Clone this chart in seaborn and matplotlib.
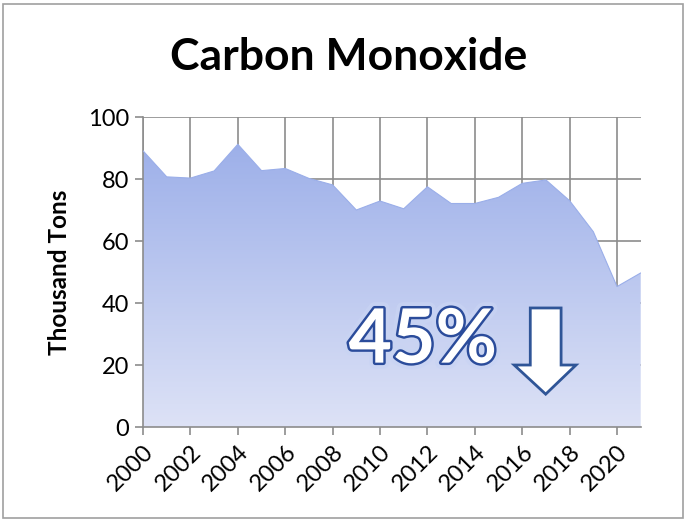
import numpy as np
import pandas as pd
import matplotlib
matplotlib.use("Agg")
import matplotlib.pyplot as plt
import seaborn as sns
from matplotlib import patheffects as pe
from matplotlib.patches import Polygon, Rectangle
from matplotlib.colors import LinearSegmentedColormap

# ---- data ----
years = list(range(2000, 2022))
emissions = [89.1, 80.7, 80.3, 82.6, 91.2, 82.7, 83.4, 80.2, 78.1, 70.0, 72.9,
             70.4, 77.5, 72.1, 72.1, 74.1, 78.6, 79.7, 73.0, 63.0, 45.3, 49.7]
tick_years = list(range(2000, 2021, 2))
y_ticks = [0, 20, 40, 60, 80, 100]
title = "Carbon Monoxide"
ylabel = "Thousand Tons"
callout = "45%"

sns.set_theme(style="white")
plt.rcParams['font.family'] = ['Lato', 'DejaVu Sans']
plt.rcParams['text.color'] = 'black'
plt.rcParams['axes.labelcolor'] = 'black'

fig = plt.figure(figsize=(6.86, 5.21), dpi=100)
ax = fig.add_axes([0.2085, 0.1804, 0.7255, 0.595])

df = pd.DataFrame({"year": years, "value": emissions})
sns.lineplot(data=df, x="year", y="value", ax=ax, color="#9AAEE9",
             linewidth=0.8, zorder=3)
poly = ax.fill_between(df["year"], 0, df["value"], facecolor="none",
                       edgecolor="none", zorder=2)
cmap = LinearSegmentedColormap.from_list("g", ["#DDE2F6", "#97ABE8"])
grad = np.linspace(0, 1, 256).reshape(-1, 1)
im = ax.imshow(grad, aspect="auto", cmap=cmap, extent=[2000, 2021, 0, 100],
               origin="lower", zorder=2)
im.set_clip_path(poly.get_paths()[0], transform=ax.transData)

ax.set_xlim(2000, 2021)
ax.set_ylim(0, 100)
ax.set_xticks(tick_years)
ax.set_xticklabels([str(y) for y in tick_years], rotation=45, ha="right",
                   rotation_mode="anchor")
ax.set_yticks(y_ticks)
ax.set_yticklabels([str(v) for v in y_ticks])
ax.grid(True, color="#8C8C8C", lw=1.2)
ax.set_axisbelow(True)
for s in ["top", "right"]:
    ax.spines[s].set_visible(False)
for s in ["left", "bottom"]:
    ax.spines[s].set_color("#8C8C8C")
    ax.spines[s].set_linewidth(1.2)
ax.tick_params(axis="both", direction="out", length=6, width=1.2,
               color="#8C8C8C", labelcolor="black", labelsize=17, pad=4,
               bottom=True, left=True)
ax.set_xlabel("")
ax.set_ylabel(ylabel, fontsize=17.5, fontweight="bold", labelpad=12)

fig.text(0.508, 0.89, title, ha="center", va="center", fontsize=32,
         fontweight="bold", color="black")

ax.text(2011.8, 27.7, callout, ha="center", va="center", fontsize=54,
        fontweight="bold", color="white", zorder=6,
        path_effects=[pe.Stroke(linewidth=9, foreground="#C9D4F3", alpha=0.7),
                      pe.Stroke(linewidth=3.5, foreground="#2B4C9B"),
                      pe.Normal()])

arrow = Polygon([(2016.34, 38.4), (2017.64, 38.4), (2017.64, 20.0),
                 (2018.27, 20.0), (2016.99, 10.6), (2015.66, 20.0),
                 (2016.34, 20.0)], closed=True, facecolor="white",
                edgecolor="#2F5597", lw=2, zorder=6)
ax.add_patch(arrow)

fig.patches.append(Rectangle((0.004, 0.006), 0.992, 0.986,
                             transform=fig.transFigure, fill=False,
                             ec="#A0A0A0", lw=1.2))

fig.savefig("out.png", dpi=100)
